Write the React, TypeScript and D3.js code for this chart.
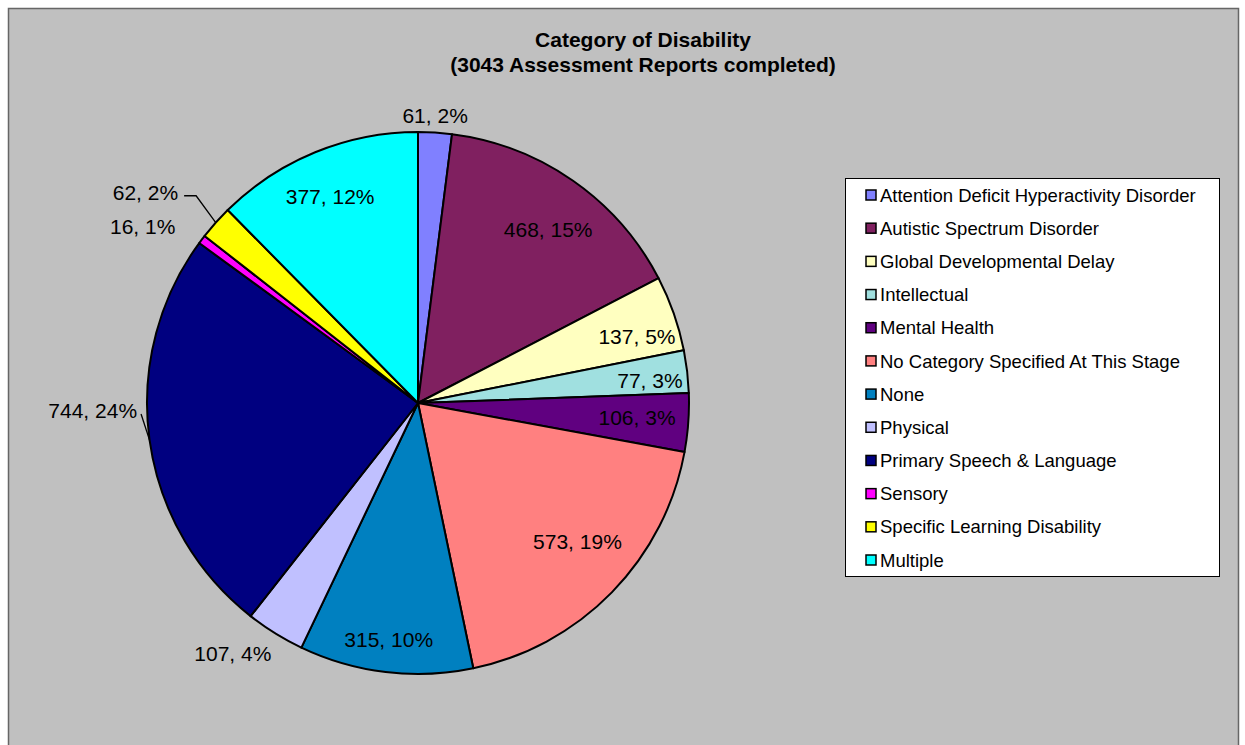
import React from "react";
import * as d3 from "d3";

const categories = [
  "Attention Deficit Hyperactivity Disorder",
  "Autistic Spectrum Disorder",
  "Global Developmental Delay",
  "Intellectual",
  "Mental Health",
  "No Category Specified At This Stage",
  "None",
  "Physical",
  "Primary Speech & Language",
  "Sensory",
  "Specific Learning Disability",
  "Multiple",
];
const values = [61, 468, 137, 77, 106, 573, 315, 107, 744, 16, 62, 377];
const percents = [2, 15, 5, 3, 3, 19, 10, 4, 24, 1, 2, 12];
const colors = [
  "#8080FF", "#802060", "#FFFFC0", "#A0E0E0", "#600080", "#FF8080",
  "#0080C0", "#C0C0FF", "#000080", "#FF00FF", "#FFFF00", "#00FFFF",
];
const titleLines = ["Category of Disability", "(3043 Assessment Reports completed)"];

// label layout: radius factor, angle offset (deg), anchor, leader type
const labelLayout = [
  { r: 1.063, off: -0.2, anchor: "middle", leader: "" },
  { r: 0.8, off: 2, anchor: "middle", leader: "" },
  { r: 0.845, off: 2.3, anchor: "middle", leader: "" },
  { r: 0.86, off: 1.1, anchor: "middle", leader: "" },
  { r: 0.81, off: -0.5, anchor: "middle", leader: "" },
  { r: 0.78, off: -3.3, anchor: "middle", leader: "" },
  { r: 0.88, off: 0.2, anchor: "middle", leader: "" },
  { r: 1.148, off: 4.7, anchor: "middle", leader: "" },
  { r: 1.037, off: 6.4, anchor: "end", leader: "direct" },
  { r: 1.107, off: -1.1, anchor: "end", leader: "" },
  { r: 1.177, off: -0.5, anchor: "end", leader: "elbow" },
  { r: 0.83, off: -0.7, anchor: "middle", leader: "" },
];

const FONT = "Arial, 'Liberation Sans', Helvetica, sans-serif";

export default function App() {
  const W = 1245, H = 745;
  const cx = 418, cy = 403, R = 271;
  const pie = d3.pie<number>().sort(null).value((d) => d);
  const arcs = pie(values);
  const arc = d3.arc<d3.PieArcDatum<number>>().innerRadius(0).outerRadius(R);
  const polar = (angDeg: number, r: number) => {
    const a = (angDeg * Math.PI) / 180;
    return [r * Math.sin(a), -r * Math.cos(a)];
  };
  const legendY = d3.scaleLinear().domain([0, categories.length - 1]).range([195, 560]);

  return (
    <svg width={W} height={H} style={{ position: "absolute", left: 0, top: 0 }} fontFamily={FONT}>
      <rect x={0} y={0} width={W} height={H} fill="#fff" />
      <rect x={8.5} y={8.5} width={1230} height={760} fill="#C0C0C0" stroke="#666" strokeWidth={1.5} />
      <g textAnchor="middle" fontWeight="bold" fontSize={21} fill="#000">
        {titleLines.map((t, i) => (
          <text key={i} x={643} y={47 + i * 25}>{t}</text>
        ))}
      </g>
      <g transform={`translate(${cx},${cy})`}>
        {arcs.map((a, i) => (
          <path key={i} d={arc(a) || ""} fill={colors[i]} stroke="#000" strokeWidth={2} strokeLinejoin="round" />
        ))}
        {arcs.map((a, i) => {
          const L = labelLayout[i];
          const mid = ((a.startAngle + a.endAngle) / 2) * 180 / Math.PI;
          const [x, y] = polar(mid + L.off, R * L.r);
          const [ex, ey] = polar(mid, R);
          let leader = null;
          if (L.leader === "elbow") {
            leader = (
              <polyline points={`${x + 6},${y + 3} ${x + 18},${y + 3} ${ex},${ey}`} fill="none" stroke="#000" strokeWidth={1.3} />
            );
          } else if (L.leader === "direct") {
            leader = (
              <line x1={x + 4} y1={y + 4} x2={ex} y2={ey} stroke="#000" strokeWidth={1.3} />
            );
          }
          return (
            <g key={i}>
              {leader}
              <text x={x} y={y} dy="0.36em" textAnchor={L.anchor} fontSize={21} fill="#000">
                {`${values[i]}, ${percents[i]}%`}
              </text>
            </g>
          );
        })}
      </g>
      <g>
        <rect x={845.5} y={178.5} width={374} height={398} fill="#fff" stroke="#000" strokeWidth={1} />
        {categories.map((c, i) => (
          <g key={i} transform={`translate(0,${legendY(i)})`}>
            <rect x={866} y={-5} width={10} height={10} fill={colors[i]} stroke="#000" strokeWidth={1.5} />
            <text x={880} y={0} dy="0.36em" fontSize={18.5} fill="#000">{c}</text>
          </g>
        ))}
      </g>
    </svg>
  );
}
